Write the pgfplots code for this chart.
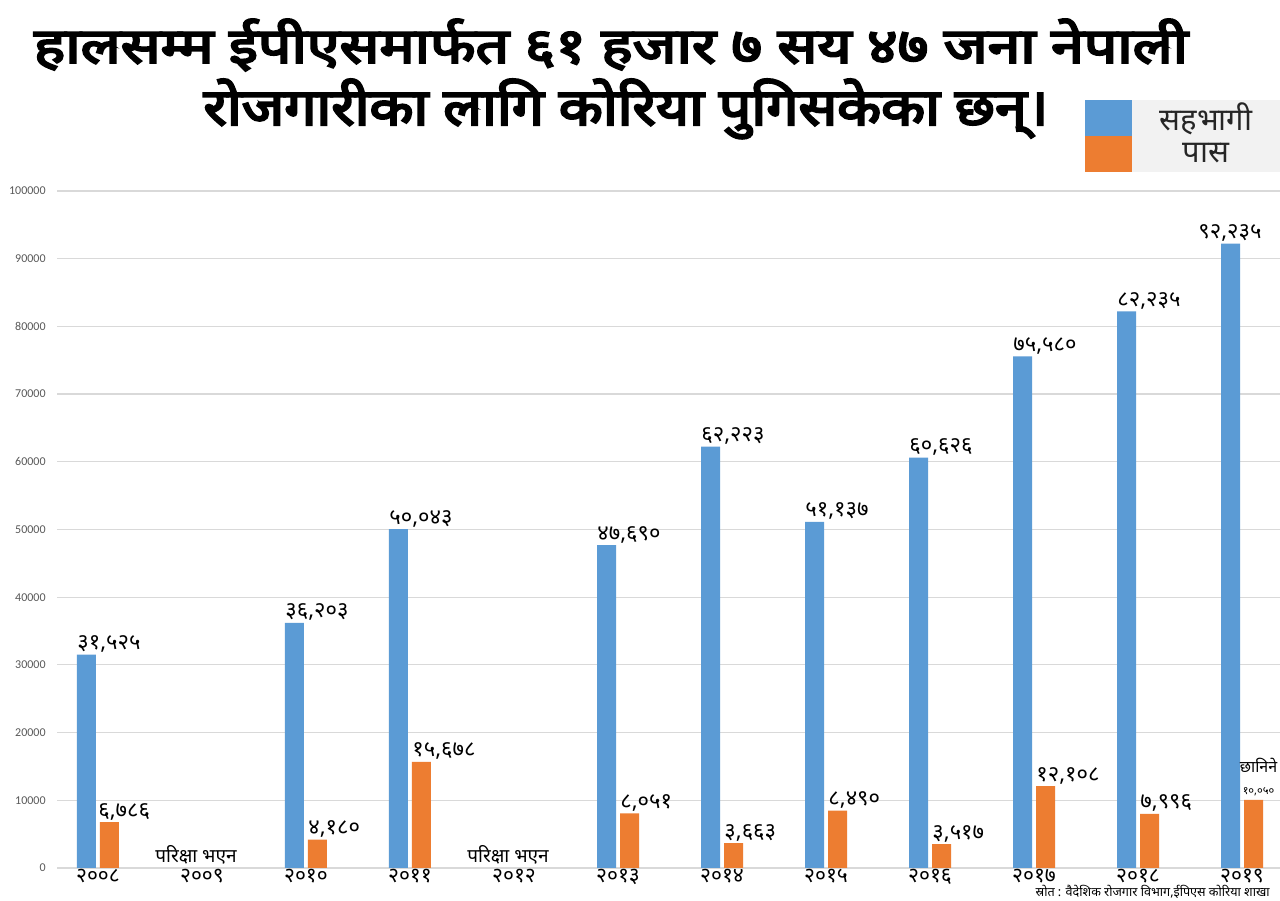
\documentclass[border=0pt]{standalone}
\usepackage{pgfplots}
\pgfplotsset{compat=1.18}
\usepackage{pgfplotstable}
\usepackage{fontspec}
\setmainfont{Noto Sans}
\newfontfamily\deva[Script=Devanagari]{Noto Sans}
\newfontfamily\devab[Script=Devanagari,FakeBold=4]{Noto Sans}
\newfontfamily\tickfont{Carlito}
\definecolor{cblue}{HTML}{5B9BD5}
\definecolor{corange}{HTML}{ED7D31}
\definecolor{ctick}{HTML}{595959}

\pgfplotstableread{
x y label dx
0 31525 ३१,५२५ 0
2 36203 ३६,२०३ 0
3 50043 ५०,०४३ 0
5 47690 ४७,६९० 0
6 62223 ६२,२२३ 0
7 51137 ५१,१३७ 0
8 60626 ६०,६२६ 0
9 75580 ७५,५८० 0
10 82235 ८२,२३५ 0
11 92235 ९२,२३५ -11.5
}\bluedata

\pgfplotstableread{
x y label dx
0 6786 ६,७८६ -1
2 4180 ४,१८० 0
3 15678 १५,६७८ 0
5 8051 ८,०५१ 0
6 3663 ३,६६३ 0
7 8490 ८,४९० 0
8 3517 ३,५१७ 0
9 12108 १२,१०८ 0
10 7996 ७,९९६ 0
11 10050 {} 0
}\orangedata

\begin{document}
\begin{tikzpicture}
\fill[white] (0,0) rectangle (640pt,450pt);
\path[use as bounding box] (0,0) rectangle (640pt,450pt);
\begin{axis}[
  at={(28.5pt,16pt)}, anchor=south west,
  scale only axis, width=611.5pt, height=338.5pt,
  xmin=-0.394, xmax=11.365, ymin=0, ymax=100000,
  clip=false,
  ybar=2pt, bar width=9.5pt,
  xtick={0,...,11},
  xticklabels={२००८,२००९,२०१०,२०११,२०१२,२०१३,२०१४,२०१५,२०१६,२०१७,२०१८,२०१९},
  ytick={0,10000,20000,30000,40000,50000,60000,70000,80000,90000,100000},
  yticklabels={0,10000,20000,30000,40000,50000,60000,70000,80000,90000,100000},
  scaled y ticks=false,
  ymajorgrids,
  major grid style={draw=black!15, line width=0.6pt},
  axis line style={draw=none},
  major tick length=0pt,
  yticklabel style={font=\tickfont\fontsize{6}{6}\selectfont, text=ctick, inner sep=0pt, xshift=-5.5pt},
  xticklabel style={font=\deva\fontsize{10.5}{10.5}\selectfont, inner sep=0pt, yshift=-0.3pt},
  nodes near coords={\pgfplotspointmeta},
  point meta=explicit symbolic,
  visualization depends on={\thisrow{dx} \as \labdx},
  every node near coord/.append style={anchor=base west, inner sep=0pt,
     xshift={\labdx pt-4.75pt}, yshift=2.5pt, font=\deva\fontsize{11}{11}\selectfont, text=black},
  legend style={at={(1,1.1344)}, anchor=north east, draw=none, fill=black!5,
     inner sep=0pt, outer sep=0pt, row sep=0pt, column sep=0pt,
     nodes={inner sep=0pt, minimum width=74pt, minimum height=18pt, anchor=center, text=black!85},
     font=\deva\fontsize{15.5}{15.5}\selectfont},
]
\addplot[fill=cblue, draw=none,
  legend image code/.code={\fill[cblue] (0pt,-9pt) rectangle (23.5pt,9pt);}]
  table[x=x, y=y, meta=label] {\bluedata};
\addplot[fill=corange, draw=none,
  legend image code/.code={\fill[corange] (0pt,-9pt) rectangle (23.5pt,9pt);}]
  table[x=x, y=y, meta=label] {\orangedata};
\legend{सहभागी,पास}
\node[anchor=base, inner sep=0pt, font=\deva\fontsize{9.5}{9.5}\selectfont] at (axis cs:1,0) [xshift=-3pt, yshift=2.5pt] {परिक्षा भएन};
\node[anchor=base, inner sep=0pt, font=\deva\fontsize{9.5}{9.5}\selectfont] at (axis cs:4,0) [xshift=-3pt, yshift=2.5pt] {परिक्षा भएन};
\node[anchor=south, align=center, inner sep=0pt] at (axis cs:11,10050) [xshift=8.25pt, yshift=2pt]
  {{\deva\fontsize{8}{8}\selectfont छानिने}\\[-1pt]{\deva\fontsize{5.5}{5.5}\selectfont १०,०५०}};
\end{axis}
\node[anchor=base, inner sep=0pt] at (305.5pt,418.5pt)
  {\resizebox{577pt}{22pt}{\devab\fontsize{24}{24}\selectfont हालसम्म ईपीएसमार्फत ६१ हजार ७ सय ४७ जना नेपाली}};
\node[anchor=base, inner sep=0pt] at (313pt,387.5pt)
  {\resizebox{422.5pt}{23pt}{\devab\fontsize{24}{24}\selectfont रोजगारीका लागि कोरिया पुगिसकेका छन्।}};
\node[anchor=base east, inner sep=0pt, font=\deva\fontsize{6.3}{6.3}\selectfont] at (635pt,1.8pt)
  {स्रोत : वैदेशिक रोजगार विभाग,ईपिएस कोरिया शाखा};
\end{tikzpicture}
\end{document}
